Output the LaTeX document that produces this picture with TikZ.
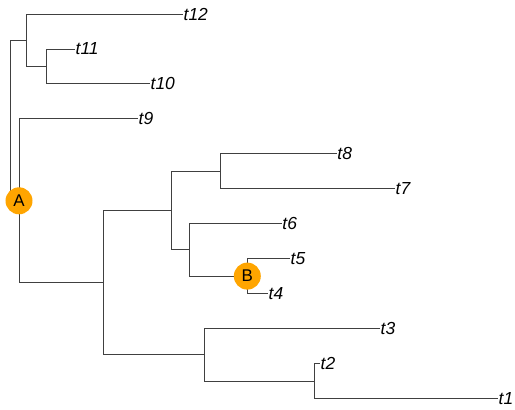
\documentclass[tikz,border=0pt]{standalone}
\usepackage{fontspec}
\setmainfont{Liberation Sans}
\definecolor{badgeorange}{HTML}{FFA500}
\begin{document}
\begin{tikzpicture}[x=1bp,y=-1bp,
  branch/.style={draw=black!75, line width=0.9bp},
  tiplabel/.style={anchor=west, inner sep=0.5bp, font=\fontsize{17.5}{19}\selectfont\itshape},
  cladebadge/.style={circle, fill=badgeorange, inner sep=0pt, minimum size=27bp, font=\fontsize{17}{19}\selectfont}]
\useasboundingbox (0,0) rectangle (515,409);
% tips
\node[tiplabel] (t12) at (183,14) {t12};
\node[tiplabel] (t11) at (75,48.95) {t11};
\node[tiplabel] (t10) at (150,83.9) {t10};
\node[tiplabel] (t9) at (138,118.85) {t9};
\node[tiplabel] (t8) at (336.7,153.8) {t8};
\node[tiplabel] (t7) at (395,188.75) {t7};
\node[tiplabel] (t6) at (281.7,223.7) {t6};
\node[tiplabel] (t5) at (290,258.65) {t5};
\node[tiplabel] (t4) at (268,293.6) {t4};
\node[tiplabel] (t3) at (380,328.55) {t3};
\node[tiplabel] (t2) at (320,363.5) {t2};
\node[tiplabel] (t1) at (498,398.45) {t1};
% internal nodes
\coordinate (n2) at (46,66.4);
\coordinate (n1) at (26,40.2);
\coordinate (nH) at (314.3,380.98);
\coordinate (nG) at (204,354.8);
\coordinate (nB) at (247.3,276.1);
\coordinate (nF) at (189,249.9);
\coordinate (nE) at (220.7,171.3);
\coordinate (nD) at (171,210.6);
\coordinate (nC) at (103,282.7);
\coordinate (nA) at (19,200.8);
\coordinate (root) at (10,120.5);
% branches
\draw[branch] (root) |- (n1);
\draw[branch] (root) |- (nA);
\draw[branch] (n1) |- (t12.west);
\draw[branch] (n1) |- (n2);
\draw[branch] (n2) |- (t11.west);
\draw[branch] (n2) |- (t10.west);
\draw[branch] (nA) |- (t9.west);
\draw[branch] (nA) |- (nC);
\draw[branch] (nC) |- (nD);
\draw[branch] (nC) |- (nG);
\draw[branch] (nD) |- (nE);
\draw[branch] (nD) |- (nF);
\draw[branch] (nE) |- (t8.west);
\draw[branch] (nE) |- (t7.west);
\draw[branch] (nF) |- (t6.west);
\draw[branch] (nF) |- (nB);
\draw[branch] (nB) |- (t5.west);
\draw[branch] (nB) |- (t4.west);
\draw[branch] (nG) |- (t3.west);
\draw[branch] (nG) |- (nH);
\draw[branch] (nH) |- (t2.west);
\draw[branch] (nH) |- (t1.west);
% clade badges
\node[cladebadge] (labelA) at (nA) {A};
\node[cladebadge] (labelB) at (nB) {B};
\end{tikzpicture}
\end{document}
